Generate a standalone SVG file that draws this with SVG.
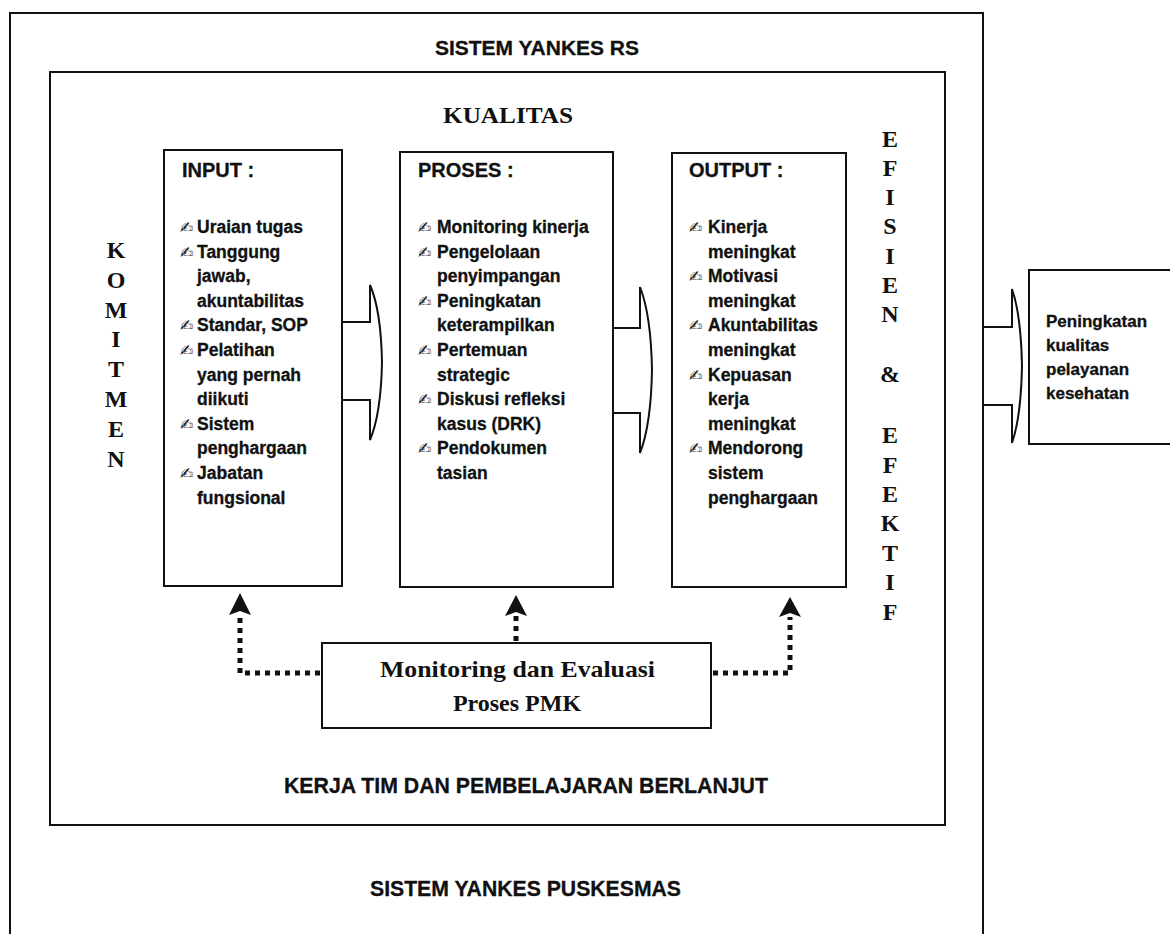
<svg xmlns="http://www.w3.org/2000/svg" width="1170" height="934" viewBox="0 0 1170 934">
<style>
.box{fill:#fff;stroke:#111;stroke-width:2}
.frame{fill:none;stroke:#111;stroke-width:2}
.t{font-family:"Liberation Sans",Arial,sans-serif;font-weight:bold;fill:#111;stroke:#111;stroke-width:0.3}
.hd{font-size:20px}
.it{font-size:17.5px}
.sym{font-family:"DejaVu Sans",sans-serif;font-size:16px;fill:#111}
.s{font-family:"Liberation Serif","Times New Roman",serif;font-weight:bold;fill:#111}
.vt{font-size:24px;text-anchor:middle}
.dot{fill:none;stroke:#111;stroke-width:5;stroke-dasharray:5 5}
.head{fill:#111}
.arr{fill:#fff;stroke:#111;stroke-width:2;stroke-linejoin:miter}
</style>
<rect width="1170" height="934" fill="#fff"/>

<g id="sistem-yankes-rs">
<rect class="frame" x="10" y="13" width="973" height="940"/>
<text class="t" x="435" y="55" font-size="21" textLength="204" lengthAdjust="spacingAndGlyphs">SISTEM YANKES RS</text>
<text class="t" x="370" y="896" font-size="22" textLength="311" lengthAdjust="spacingAndGlyphs">SISTEM YANKES PUSKESMAS</text>
</g>

<g id="kualitas">
<rect class="frame" x="50" y="72" width="895" height="753"/>
<text class="s" x="443" y="123" font-size="23" textLength="130" lengthAdjust="spacingAndGlyphs">KUALITAS</text>
<text class="t" x="284" y="793" font-size="22" textLength="484" lengthAdjust="spacingAndGlyphs">KERJA TIM DAN PEMBELAJARAN BERLANJUT</text>
</g>

<g id="komitmen" class="s vt">
<text x="116" y="258">K</text>
<text x="116" y="288">O</text>
<text x="116" y="318">M</text>
<text x="116" y="347">I</text>
<text x="116" y="377">T</text>
<text x="116" y="407">M</text>
<text x="116" y="437">E</text>
<text x="116" y="467">N</text>
</g>

<g id="efisien-efektif" class="s vt">
<text x="890" y="147">E</text>
<text x="890" y="176">F</text>
<text x="890" y="205">I</text>
<text x="890" y="234">S</text>
<text x="890" y="264">I</text>
<text x="890" y="293">E</text>
<text x="890" y="322">N</text>
<text x="890" y="382">&amp;</text>
<text x="890" y="443">E</text>
<text x="890" y="473">F</text>
<text x="890" y="502">E</text>
<text x="890" y="531">K</text>
<text x="890" y="561">T</text>
<text x="890" y="590">I</text>
<text x="890" y="620">F</text>
</g>

<g id="input">
<rect class="box" x="164" y="150" width="178" height="436"/>
<text class="t hd" x="182" y="177">INPUT :</text>
<g class="sym">
<text x="180" y="233">✍</text>
<text x="180" y="258">✍</text>
<text x="180" y="331">✍</text>
<text x="180" y="356">✍</text>
<text x="180" y="430">✍</text>
<text x="180" y="479">✍</text>
</g>
<g class="t it">
<text x="197" y="233">Uraian tugas</text>
<text x="197" y="258">Tanggung</text>
<text x="197" y="282">jawab,</text>
<text x="197" y="307">akuntabilitas</text>
<text x="197" y="331">Standar, SOP</text>
<text x="197" y="356">Pelatihan</text>
<text x="197" y="381">yang pernah</text>
<text x="197" y="405">diikuti</text>
<text x="197" y="430">Sistem</text>
<text x="197" y="454">penghargaan</text>
<text x="197" y="479">Jabatan</text>
<text x="197" y="504">fungsional</text>
</g>
</g>

<g id="proses">
<rect class="box" x="400" y="152" width="213" height="435"/>
<text class="t hd" x="418" y="177">PROSES :</text>
<g class="sym">
<text x="418" y="233">✍</text>
<text x="418" y="258">✍</text>
<text x="418" y="307">✍</text>
<text x="418" y="356">✍</text>
<text x="418" y="405">✍</text>
<text x="418" y="454">✍</text>
</g>
<g class="t it">
<text x="437" y="233">Monitoring kinerja</text>
<text x="437" y="258">Pengelolaan</text>
<text x="437" y="282">penyimpangan</text>
<text x="437" y="307">Peningkatan</text>
<text x="437" y="331">keterampilkan</text>
<text x="437" y="356">Pertemuan</text>
<text x="437" y="381">strategic</text>
<text x="437" y="405">Diskusi refleksi</text>
<text x="437" y="430">kasus (DRK)</text>
<text x="437" y="454">Pendokumen</text>
<text x="437" y="479">tasian</text>
</g>
</g>

<g id="output">
<rect class="box" x="672" y="153" width="174" height="434"/>
<text class="t hd" x="689" y="177">OUTPUT :</text>
<g class="sym">
<text x="689" y="233">✍</text>
<text x="689" y="282">✍</text>
<text x="689" y="331">✍</text>
<text x="689" y="381">✍</text>
<text x="689" y="454">✍</text>
</g>
<g class="t it">
<text x="708" y="233">Kinerja</text>
<text x="708" y="258">meningkat</text>
<text x="708" y="282">Motivasi</text>
<text x="708" y="307">meningkat</text>
<text x="708" y="331">Akuntabilitas</text>
<text x="708" y="356">meningkat</text>
<text x="708" y="381">Kepuasan</text>
<text x="708" y="405">kerja</text>
<text x="708" y="430">meningkat</text>
<text x="708" y="454">Mendorong</text>
<text x="708" y="479">sistem</text>
<text x="708" y="504">penghargaan</text>
</g>
</g>

<g id="monitoring-evaluasi">
<rect class="box" x="322" y="643" width="389" height="85"/>
<text class="s" x="380" y="677" font-size="24" textLength="275" lengthAdjust="spacingAndGlyphs">Monitoring dan Evaluasi</text>
<text class="s" x="517" y="711" font-size="24" text-anchor="middle">Proses PMK</text>
</g>

<g id="peningkatan-kualitas">
<rect class="box" x="1029" y="270" width="150" height="174"/>
<g class="t" font-size="17">
<text x="1046" y="327">Peningkatan</text>
<text x="1046" y="351">kualitas</text>
<text x="1046" y="375">pelayanan</text>
<text x="1046" y="399">kesehatan</text>
</g>
</g>

<g id="connectors">
<path class="arr" d="M343,322 H370 V285 Q381,310 382,362 Q381,414 370,440 V400 H343"/>
<path class="arr" d="M614,328 H640 V287 Q651,315 652,370 Q651,425 640,453 V413 H614"/>
<path class="arr" d="M984,327 H1012 V289 Q1021,315 1022,366 Q1021,417 1012,443 V405 H984"/>
<path class="dot" d="M320,673 H240 V616"/>
<polygon class="head" points="240,593 251,615 240,611 229,615"/>
<path class="dot" d="M516,641 V616"/>
<polygon class="head" points="516,595 527,616 516,612 505,616"/>
<path class="dot" d="M713,673 H790 V617"/>
<polygon class="head" points="790,597 801,617 790,613 779,617"/>
</g>
</svg>
